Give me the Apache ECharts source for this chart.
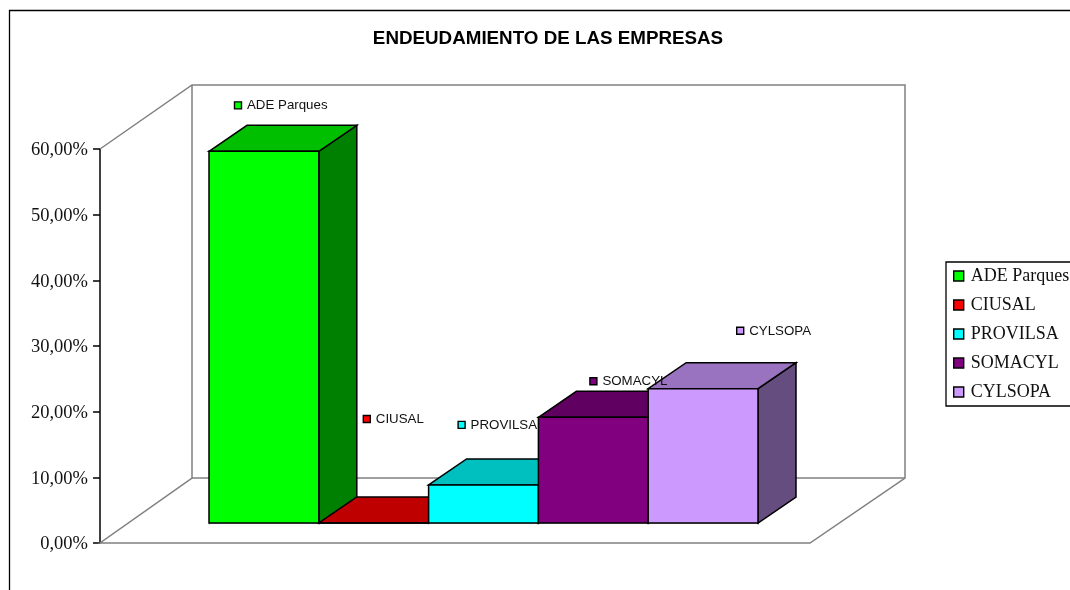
<!DOCTYPE html>
<html><head><meta charset="utf-8">
<style>html,body{margin:0;padding:0;background:#fff}#c{width:1070px;height:590px}</style>
<script src="https://cdn.jsdelivr.net/npm/echarts@6/dist/echarts.min.js"></script>
</head><body><div id="c"></div>
<script>
const categories = ['ADE Parques','CIUSAL','PROVILSA','SOMACYL','CYLSOPA'];
const values = [56.6, 0, 5.8, 16.1, 20.45];
const yTicks = [0,10,20,30,40,50,60];
const frontColors = ['#00FF00','#BF0000','#00FFFF','#800080','#CC99FF'];
const legendColors = ['#00FF00','#FF0000','#00FFFF','#800080','#CC99FF'];
const topColors = ['#00BF00','#BF0000','#00BFBF','#600060','#9973BF'];
const sideColors = ['#008000','#800000','#008080','#400040','#664D80'];
const labelDx = [29, 48, 33, 55, 92];
const labelDy = [-46, -104, -60, -36, -58];

const DEPTH_X = 38, DEPTH_Y = -26, BASE_LIFT = 20;
const LINE = 1.5;

function poly(points, fill){
  return {type:'polygon', shape:{points}, style:{fill, stroke:'#000', lineWidth:LINE, lineJoin:'miter'}};
}
function barRenderer(i){
  return function(params, api){
    const top = api.coord([api.value(0), api.value(1)]);
    const base = api.coord([api.value(0), 0]);
    const w = api.size([1,0])[0];
    const l = top[0]-w/2, r = top[0]+w/2;
    const yt = top[1]-BASE_LIFT, yb = base[1]-BASE_LIFT;
    return {type:'group', children:[
      poly([[r,yt],[r+DEPTH_X,yt+DEPTH_Y],[r+DEPTH_X,yb+DEPTH_Y],[r,yb]], sideColors[i]),
      poly([[l,yt],[l+DEPTH_X,yt+DEPTH_Y],[r+DEPTH_X,yt+DEPTH_Y],[r,yt]], topColors[i]),
      poly([[l,yt],[r,yt],[r,yb],[l,yb]], frontColors[i])
    ]};
  };
}
function labelRenderer(params, api){
  const i = api.value(0);
  const top = api.coord([i, api.value(1)]);
  const w = api.size([1,0])[0];
  const kx = top[0]-w/2+labelDx[i], ky = top[1]-BASE_LIFT+labelDy[i];
  return {type:'group', children:[
    {type:'rect', shape:{x:kx-3.5,y:ky-3.5,width:7,height:7},
     style:{fill:legendColors[i],stroke:'#000',lineWidth:1.4}},
    {type:'text', style:{text:categories[i], x:kx+9, y:ky+0.5, fill:'#111',
      fontFamily:'Liberation Sans', fontSize:13.3, verticalAlign:'middle', align:'left'}}
  ]};
}
function wallRenderer(params, api){
  const y0 = api.coord([0,0])[1], y60 = api.coord([0,60])[1];
  const xf = 100, xb = 192, xr = 905, xfr = 810;
  const yb0 = y0-65, yb60 = y60-64;
  const gray = {stroke:'#808080', lineWidth:1.5, fill:null};
  const line = pts => ({type:'polyline', shape:{points:pts}, style:gray});
  return {type:'group', children:[
    line([[xf,y60],[xb,yb60],[xr,yb60],[xr,yb0],[xfr,y0],[xf,y0],[xb,yb0],[xb,yb60]]),
    line([[xb,yb0],[xr,yb0]])
  ]};
}
const barSeries = categories.map((name,i)=>({
  type:'custom', name, z:5+i, clip:false, silent:true,
  itemStyle:{color:legendColors[i]},
  encode:{x:0,y:1},
  data:[[i, values[i]]],
  renderItem:barRenderer(i)
}));
const chart = echarts.init(document.getElementById('c'),null,{renderer:'canvas'});
chart.setOption({
  animation:false,
  backgroundColor:'#fff',
  title:{text:'ENDEUDAMIENTO DE LAS EMPRESAS', left:543, top:24, textAlign:'center',
    textStyle:{fontFamily:'Liberation Sans',fontWeight:'bold',fontSize:18.8,color:'#000'}},
  grid:{left:209, width:549, top:149, height:394, containLabel:false},
  xAxis:{type:'category', data:categories, offset:-19.5,
    axisLine:{lineStyle:{color:'#bbbbbb',width:1}}, axisTick:{show:true,length:1,lineStyle:{color:'#999'}},
    axisLabel:{show:false}, splitLine:{show:false}},
  yAxis:{type:'value', min:yTicks[0], max:yTicks[yTicks.length-1], interval:10, offset:109,
    axisLine:{show:true,lineStyle:{color:'#000',width:1.5}},
    axisTick:{show:true,length:7,lineStyle:{color:'#000',width:1.5}},
    axisLabel:{margin:12,color:'#111',fontFamily:'Liberation Serif',fontSize:18.5,verticalAlign:'top',lineHeight:3,
      formatter:v=>v.toFixed(2).replace('.',',')+'%'},
    splitLine:{show:false}},
  legend:{show:true, orient:'vertical', left:946, top:262, padding:[5,0,5,7],
    selectedMode:false, itemWidth:10, itemHeight:10, itemGap:11,
    borderColor:'#000', borderWidth:1.3, backgroundColor:'#fff',
    itemStyle:{borderColor:'#000',borderWidth:1.4},
    textStyle:{fontFamily:'Liberation Serif',fontSize:18,color:'#111',padding:[5,0,0,2],lineHeight:13,width:105,overflow:'none'},
    data:categories.map(name=>({name,icon:'rect'}))},
  graphic:[{type:'polyline', silent:true, z:-1,
    shape:{points:[[9.5,600],[9.5,10.5],[1080,10.5]]}, style:{stroke:'#000',lineWidth:1.3,fill:null}}],
  series:[{type:'custom', name:'walls', z:1, clip:false, silent:true, encode:{x:0,y:1},
    data:[[0,0]], renderItem:wallRenderer}].concat(barSeries).concat([
    {type:'custom', name:'labels', z:20, clip:false, silent:true, encode:{x:0,y:1},
     data:categories.map((c,i)=>[i,values[i]]), renderItem:labelRenderer}])
});
</script></body></html>
